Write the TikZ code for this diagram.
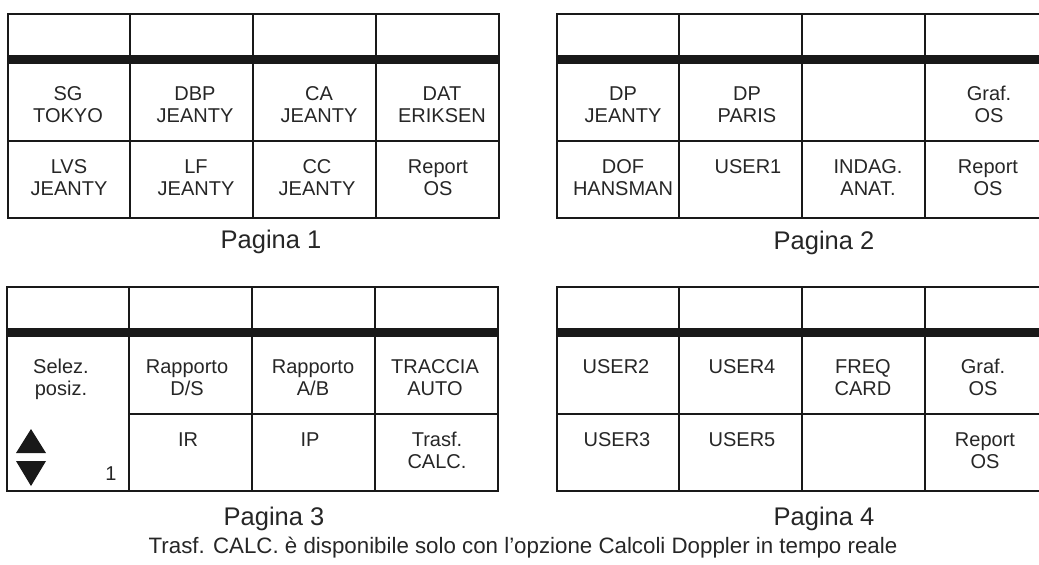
\documentclass[tikz,border=0pt]{standalone}
\usepackage{fontspec}
\setmainfont{Liberation Sans}
\tikzset{
  frame/.style={line width=2pt, color=black!90},
  bar/.style={fill=black!90},
  cell/.style={font=\fontsize{20}{22.4}\selectfont, align=center, anchor=base, inner sep=0pt, text=black!85},
  cellii/.style={cell, yshift=-22.4pt},
  pagelabel/.style={font=\fontsize{25.5}{28}\selectfont, anchor=base, inner sep=0pt, text=black!85},
  note/.style={font=\fontsize{22.3}{26}\selectfont, anchor=base, inner sep=0pt, text=black!85},
  arrowtri/.style={fill=black!90}
}
\newcommand\drawpanel[3]{%
  \begin{scope}[shift={(#1,#2)}]
    \fill[bar] (0,41) rectangle (491,50);
    \draw[frame] (0,0) rectangle (491,204);
    \draw[frame] (122,0) -- (122,204) (245,0) -- (245,204) (368,0) -- (368,204);
    \draw[frame] (#3,127) -- (491,127);
  \end{scope}}
\begin{document}
\begin{tikzpicture}[x=1pt,y=-1pt]
\useasboundingbox (0,0) rectangle (1039,565);
\clip (0,0) rectangle (1039,565);
% panels
\drawpanel{8}{14}{0}
\drawpanel{557}{14}{0}
\drawpanel{7}{287}{122}
\drawpanel{557}{287}{0}
% Pagina 1
\node[cellii] (p1a) at (68,100) {SG\\TOKYO};
\node[cellii] (p1b) at (195,100) {DBP\\JEANTY};
\node[cellii] (p1c) at (319,100) {CA\\JEANTY};
\node[cellii] (p1d) at (442,100) {DAT\\ERIKSEN};
\node[cellii] (p1e) at (69,173.5) {LVS\\JEANTY};
\node[cellii] (p1f) at (196,173.5) {LF\\JEANTY};
\node[cellii] (p1g) at (317,173.5) {CC\\JEANTY};
\node[cellii] (p1h) at (438,173.5) {Report\\OS};
\node[pagelabel] (lab1) at (271,248) {Pagina 1};
% Pagina 2
\node[cellii] (p2a) at (623,100) {DP\\JEANTY};
\node[cellii] (p2b) at (747,100) {DP\\PARIS};
\node[cellii] (p2d) at (989,100) {Graf.\\OS};
\node[cellii] (p2e) at (623,173.5) {DOF\\HANSMAN};
\node[cell] (p2f) at (748,173.5) {USER1};
\node[cellii] (p2g) at (868,173.5) {INDAG.\\ANAT.};
\node[cellii] (p2h) at (988,173.5) {Report\\OS};
\node[pagelabel] (lab2) at (824,249) {Pagina 2};
% Pagina 3
\node[cellii] (p3a) at (61,373) {Selez.\\posiz.};
\node[cellii] (p3b) at (187,373) {Rapporto\\D/S};
\node[cellii] (p3c) at (313,373) {Rapporto\\A/B};
\node[cellii] (p3d) at (435,373) {TRACCIA\\AUTO};
\node[cell] (p3f) at (188,446.5) {IR};
\node[cell] (p3g) at (310,446.5) {IP};
\node[cellii] (p3h) at (437,446.5) {Trasf.\\CALC.};
\fill[arrowtri] (16,453) -- (46,453) -- (31,429) -- cycle;
\fill[arrowtri] (16,461) -- (46,461) -- (31,486) -- cycle;
\node[cell] (p3n) at (111,480) {1};
\node[pagelabel] (lab3) at (274,525) {Pagina 3};
% Pagina 4
\node[cell] (p4a) at (616,373) {USER2};
\node[cell] (p4b) at (742,373) {USER4};
\node[cellii] (p4c) at (863,373) {FREQ\\CARD};
\node[cellii] (p4d) at (983,373) {Graf.\\OS};
\node[cell] (p4e) at (617,446.5) {USER3};
\node[cell] (p4f) at (742,446.5) {USER5};
\node[cellii] (p4h) at (985,446.5) {Report\\OS};
\node[pagelabel] (lab4) at (824,525) {Pagina 4};
% footnote
\node[note] (foot) at (523,553) {Trasf. CALC. è disponibile solo con l’opzione Calcoli Doppler in tempo reale};
\end{tikzpicture}
\end{document}
